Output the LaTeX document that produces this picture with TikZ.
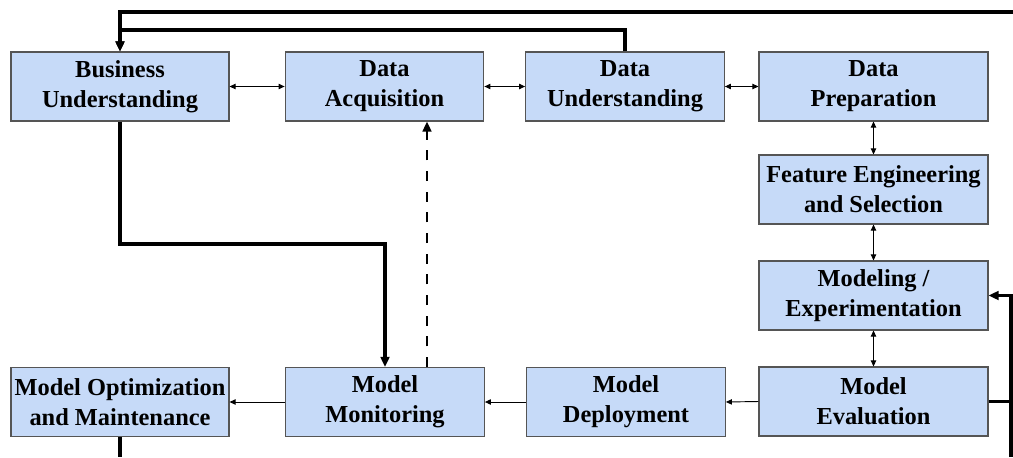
\documentclass[tikz,border=0pt]{standalone}
\usepackage{fontspec}
\setmainfont{Liberation Serif}
\usetikzlibrary{arrows.meta,calc}
\definecolor{boxfill}{HTML}{C6DAF8}
\definecolor{boxline}{HTML}{555555}
\tikzset{
  stage/.style={draw=boxline, line width=0.8pt, fill=boxfill, inner sep=0pt,
    minimum height=51.75pt, align=center,
    font=\fontsize{18.3}{22.5}\selectfont\bfseries},
  wide/.style={stage, minimum width=163.5pt},
  mid/.style={stage, minimum width=149pt},
  col/.style={stage, minimum width=171.75pt},
  link/.style={line width=0.7pt, -{Triangle[length=4.5pt,width=4pt]}},
  twoway/.style={line width=0.7pt, {Triangle[length=4.5pt,width=4pt]}-{Triangle[length=4.5pt,width=4pt]}},
  loop/.style={line width=2.3pt, -{Triangle[length=7.5pt,width=6.5pt]}},
  loopline/.style={line width=2.3pt},
  feedback/.style={line width=1.8pt, dash pattern=on 7.5pt off 8pt, -{Triangle[length=7.5pt,width=6.5pt]}}
}
\begin{document}
\begin{tikzpicture}[x=0.75pt, y=-0.75pt]
\useasboundingbox (0,0) rectangle (1013,457);

% top row
\node[wide] (bu)  at (120,86.5)   {Business\\Understanding};
\node[mid]  (da)  at (384.5,86.5) {Data\\Acquisition};
\node[mid]  (du)  at (625,86.5)   {Data\\Understanding};
\node[col]  (dp)  at (873.5,86.5) {Data\\Preparation};
% right column
\node[col]  (fe)  at (873.5,189.5) {Feature Engineering\\and Selection};
\node[col]  (me)  at (873.5,295.5) {Modeling /\\Experimentation};
\node[col]  (ev)  at (873.5,401.5) {Model\\Evaluation};
% bottom row
\node[mid]  (dep) at (626,402)   {Model\\Deployment};
\node[mid]  (mon) at (385,402)   {Model\\Monitoring};
\node[wide] (opt) at (120,402)   {Model Optimization\\and Maintenance};

% helper points for the loops
\coordinate (rt) at (1013,12);
\coordinate (t2) at (120,30);
\coordinate (k1) at (385,244);
\coordinate (dsh) at (427,367);
\coordinate (rb) at (1011,457);
\coordinate (ob) at (120,457);

% neighbouring stages
\draw[twoway] (bu.east) -- (da.west);
\draw[twoway] (da.east) -- (du.west);
\draw[twoway] (du.east) -- (dp.west);
\draw[twoway] (dp.south) -- (fe.north);
\draw[twoway] (fe.south) -- (me.north);
\draw[twoway] (me.south) -- (ev.north);
\draw[link] (ev.west) -- (dep.east);
\draw[link] (dep.west) -- (mon.east);
\draw[link] (mon.west) -- (opt.east);

% feedback loops
\draw[loop] (rt) -| (bu.north);
\draw[loop] (du.north) |- (t2) -- (bu.north);
\draw[loop] (bu.south) |- (k1) -- (mon.north);
\draw[feedback] (dsh) -- (dsh |- da.south);
\draw[loopline] (ev.east) -- (ev.east -| rb);
\draw[loop] (rb) |- (me.east);
\draw[loopline] (opt.south) -- (ob);
\end{tikzpicture}
\end{document}
